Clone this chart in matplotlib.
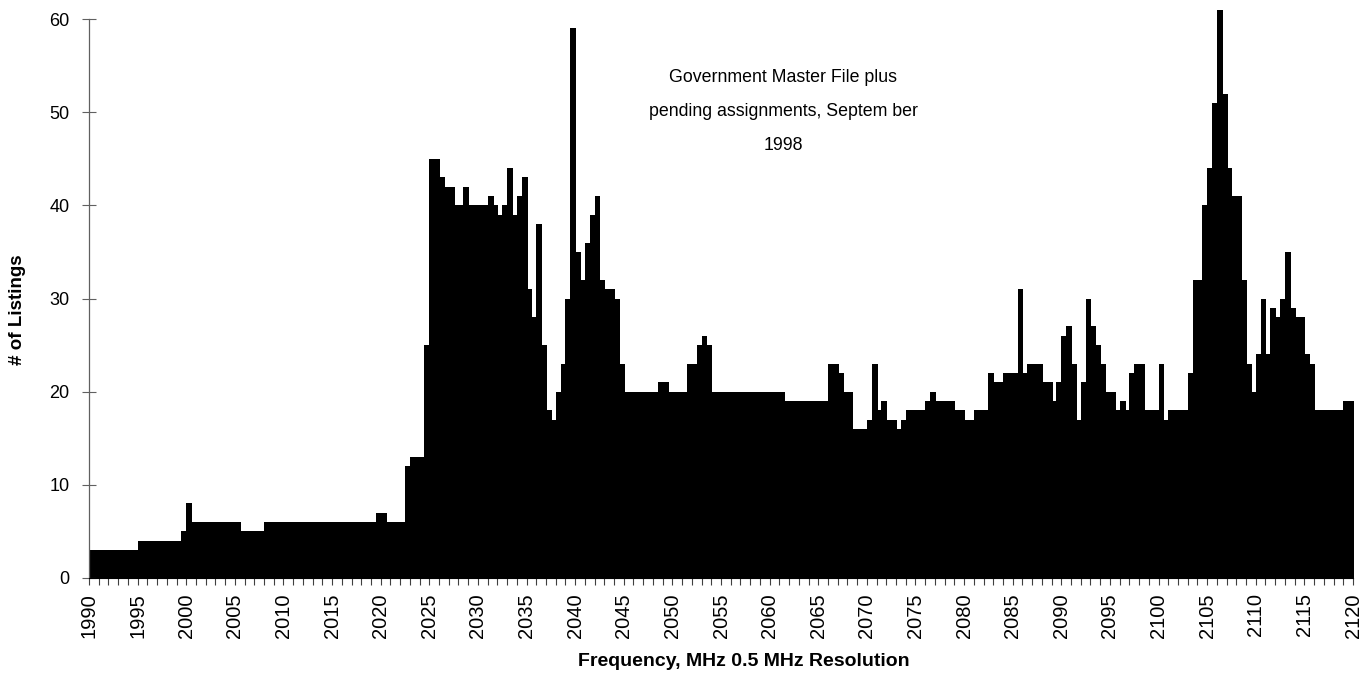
import numpy as np
import matplotlib
matplotlib.use("Agg")
from matplotlib import pyplot as plt

plt.rcParams["font.family"] = ["Liberation Sans", "DejaVu Sans"]

# listings per 0.5 MHz bin, one row per 5 MHz starting at 1990
counts = [
    3, 3, 3, 3, 3, 3, 3, 3, 3, 3,            # 1990
    4, 4, 4, 4, 4, 4, 4, 4, 4, 5,            # 1995
    8, 6, 6, 6, 6, 6, 6, 6, 6, 6,            # 2000
    6, 5, 5, 5, 5, 5, 6, 6, 6, 6,            # 2005
    6, 6, 6, 6, 6, 6, 6, 6, 6, 6,            # 2010
    6, 6, 6, 6, 6, 6, 6, 6, 6, 7,            # 2015
    7, 6, 6, 6, 6, 12, 13, 13, 13, 25,       # 2020
    45, 45, 43, 42, 42, 40, 40, 42, 40, 40,  # 2025
    40, 40, 41, 40, 39, 40, 44, 39, 41, 43,  # 2030
    31, 28, 38, 25, 18, 17, 20, 23, 30, 59,  # 2035
    35, 32, 36, 39, 41, 32, 31, 31, 30, 23,  # 2040
    20, 20, 20, 20, 20, 20, 20, 21, 21, 20,  # 2045
    20, 20, 20, 23, 23, 25, 26, 25, 20, 20,  # 2050
    20, 20, 20, 20, 20, 20, 20, 20, 20, 20,  # 2055
    20, 20, 20, 19, 19, 19, 19, 19, 19, 19,  # 2060
    19, 19, 23, 23, 22, 20, 20, 16, 16, 16,  # 2065
    17, 23, 18, 19, 17, 17, 16, 17, 18, 18,  # 2070
    18, 18, 19, 20, 19, 19, 19, 19, 18, 18,  # 2075
    17, 17, 18, 18, 18, 22, 21, 21, 22, 22,  # 2080
    22, 31, 22, 23, 23, 23, 21, 21, 19, 21,  # 2085
    26, 27, 23, 17, 21, 30, 27, 25, 23, 20,  # 2090
    20, 18, 19, 18, 22, 23, 23, 18, 18, 18,  # 2095
    23, 17, 18, 18, 18, 18, 22, 32, 32, 40,  # 2100
    44, 51, 61, 52, 44, 41, 41, 32, 23, 20,  # 2105
    24, 30, 24, 29, 28, 30, 35, 29, 28, 28,  # 2110
    24, 23, 18, 18, 18, 18, 18, 18, 19, 19,  # 2115
]
f_start = 1990.0
resolution = 0.5
freqs = f_start + resolution * np.arange(len(counts))

x_labels = [str(v) for v in range(1990, 2121, 5)]
y_ticks = [0, 10, 20, 30, 40, 50, 60]

note = "Government Master File plus\npending assignments, Septem ber\n1998"

W, H = 1371, 684
fig = plt.figure(figsize=(W / 100, H / 100), dpi=100)
ax = fig.add_axes([89 / W, 1 - 578 / H, (1353 - 89) / W, (578 - 19) / H])

bars = ax.bar(freqs, counts, width=resolution, align="edge",
              color="black", edgecolor="black", linewidth=0.5,
              antialiased=False)
for b in bars:
    b.set_clip_on(False)

ax.set_xlim(1990, 2120)
ax.set_ylim(0, 60)

ax.set_xticks([int(s) for s in x_labels])
ax.set_xticklabels(x_labels, rotation=90, fontsize=14.5)
ax.set_xticks(np.arange(1990, 2121, 1), minor=True)
ax.set_yticks(y_ticks)
ax.set_yticklabels([str(v) for v in y_ticks], fontsize=13)

ax.tick_params(axis="x", which="both", direction="out", length=5,
               width=0.8, color="#404040", pad=6)
ax.tick_params(axis="y", direction="inout", length=10, width=0.8,
               color="#606060", pad=9)

for s in ("top", "right"):
    ax.spines[s].set_visible(False)
ax.spines["left"].set_color("#606060")
ax.spines["left"].set_linewidth(0.9)
ax.spines["bottom"].set_color("black")

ax.set_xlabel("Frequency, MHz 0.5 MHz Resolution", fontsize=14,
              fontweight="bold")
ax.xaxis.set_label_coords((744 - 89) / 1264, -(653 - 578) / 559)
ax.set_ylabel("# of Listings", fontsize=13.5, fontweight="bold")
ax.yaxis.set_label_coords(-(89 - 26) / 1264, (578 - 310) / 559)

ax.text(2061.4, 50.1, note, ha="center", va="center", fontsize=12.8,
        linespacing=2.3)

fig.savefig("out.png", dpi=100)
